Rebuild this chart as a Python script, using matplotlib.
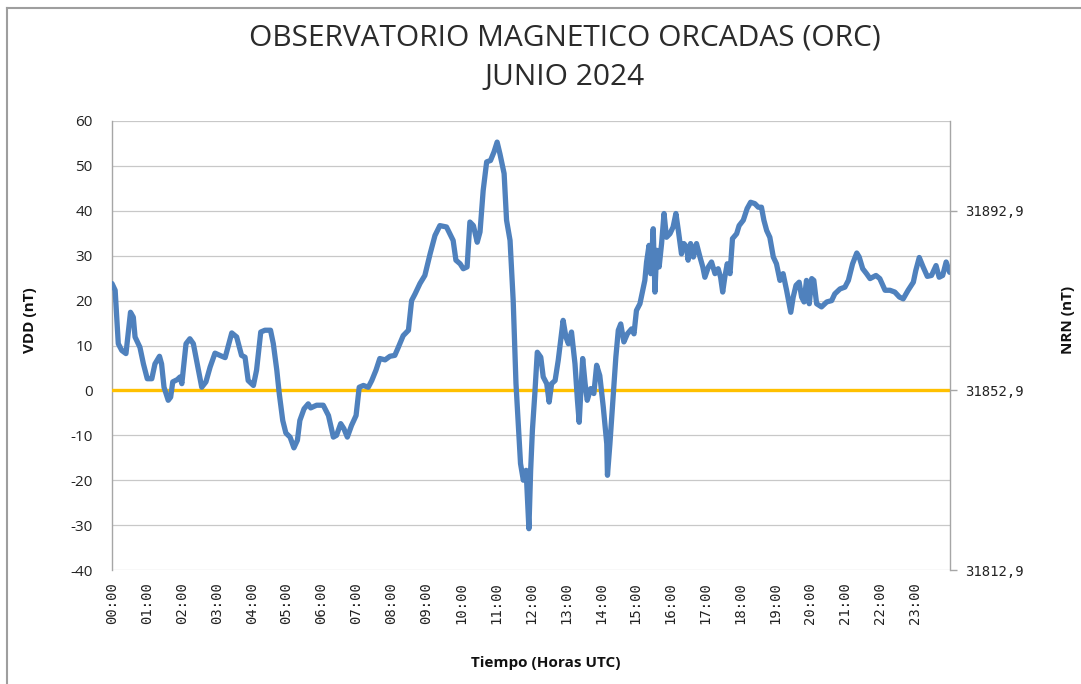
import matplotlib
matplotlib.use("Agg")
import matplotlib.pyplot as plt
import matplotlib.transforms as mtransforms
from matplotlib.lines import Line2D

plt.rcParams["axes.unicode_minus"] = False

# ---- data ----
hours = [0.00, 0.09, 0.18, 0.28, 0.40, 0.53, 0.61, 0.66, 0.80, 0.90, 1.01, 1.14, 1.23, 1.36, 1.42,
         1.49, 1.61, 1.68, 1.74, 1.87, 1.95, 2.00, 2.12, 2.23, 2.33, 2.44, 2.57, 2.69, 2.81, 2.95,
         3.09, 3.24, 3.43, 3.57, 3.71, 3.81, 3.90, 4.05, 4.14, 4.26, 4.38, 4.54, 4.62, 4.72, 4.79,
         4.89, 4.98, 5.10, 5.21, 5.31, 5.38, 5.50, 5.62, 5.69, 5.86, 6.05, 6.20, 6.34, 6.43, 6.55,
         6.64, 6.74, 6.86, 6.99, 7.08, 7.20, 7.34, 7.44, 7.56, 7.67, 7.82, 7.96, 8.10, 8.20, 8.34,
         8.49, 8.58, 8.68, 8.82, 8.96, 9.11, 9.25, 9.39, 9.58, 9.77, 9.85, 9.97, 10.06, 10.17, 10.25,
         10.35, 10.46, 10.54, 10.63, 10.73, 10.84, 10.94, 11.03, 11.11, 11.23, 11.30, 11.40, 11.49,
         11.57, 11.64, 11.70, 11.78, 11.86, 11.94,
         11.99, 12.04, 12.11, 12.18, 12.28, 12.35, 12.45, 12.52, 12.59, 12.69, 12.78, 12.92, 13.00,
         13.07, 13.16, 13.26, 13.33, 13.38, 13.42, 13.48, 13.55, 13.61, 13.71, 13.80, 13.88, 13.97,
         14.07, 14.17, 14.19, 14.26, 14.36, 14.43, 14.50, 14.57, 14.66, 14.76, 14.88, 14.95, 15.02,
         15.12, 15.20, 15.26, 15.31, 15.38, 15.43, 15.50, 15.55, 15.60, 15.67, 15.74, 15.81, 15.88,
         15.98, 16.07, 16.15, 16.22, 16.31, 16.38, 16.46, 16.50, 16.57, 16.65, 16.74, 16.84, 16.92,
         16.98, 17.08, 17.17, 17.27, 17.36, 17.43, 17.49, 17.55, 17.62, 17.70, 17.77, 17.89, 17.96,
         18.08, 18.19, 18.29, 18.41, 18.51, 18.60, 18.67, 18.75, 18.84, 18.94, 19.03, 19.13, 19.22,
         19.32, 19.44, 19.51, 19.59, 19.68, 19.75, 19.82, 19.89, 19.97, 20.04, 20.10, 20.18, 20.32,
         20.47, 20.61, 20.70, 20.85, 20.99, 21.09, 21.21, 21.33, 21.40, 21.50, 21.61, 21.71, 21.88,
         21.99, 22.14, 22.28, 22.42, 22.55, 22.66, 22.80, 22.95, 23.02, 23.12, 23.23, 23.35, 23.47,
         23.60, 23.69, 23.79, 23.89, 23.99]

vdd = [23.8, 22.3, 10.4, 8.9, 8.2, 17.4, 16.3, 11.9, 9.6, 5.9, 2.6, 2.6, 5.9, 7.6, 5.9,
       0.7, -2.2, -1.5, 1.9, 2.4, 3.0, 1.5, 10.4, 11.5, 10.4, 5.9, 0.7, 1.9, 5.2, 8.3,
       7.8, 7.3, 12.8, 11.9, 7.8, 7.4, 2.2, 1.1, 4.5, 13.0, 13.4, 13.4, 10.4, 4.5, -0.7,
       -6.7, -9.5, -10.4, -12.8, -11.1, -6.7, -4.1, -3.0, -3.9, -3.3, -3.3, -5.6, -10.4, -10.0, -7.4,
       -8.5, -10.4, -7.8, -5.6, 0.7, 1.1, 0.7, 2.2, 4.5, 7.1, 6.8, 7.6, 7.8, 9.6, 12.2,
       13.4, 20.0, 21.5, 23.8, 25.6, 30.4, 34.5, 36.7, 36.4, 33.4, 29.0, 28.2, 27.1, 27.5, 37.5,
       36.7, 33.0, 35.3, 44.5, 50.9, 51.2, 53.1, 55.3, 52.7, 48.3, 37.9, 33.4, 20.0,
       1.5, -8.2, -16.3, -20.0, -17.8, -30.8,
       -17.8, -8.9, -0.7, 8.5, 7.4, 3.0, 1.5, -2.6, 1.5, 2.2, 6.7, 15.6, 11.9,
       10.4, 13.0, 5.9, -2.2, -7.1, -1.5, 7.1, 1.5, -2.2, 0.4, -0.7, 5.6, 3.3,
       -3.7, -11.9, -18.9, -11.9, -0.7, 7.4, 13.4, 14.8, 10.8, 12.6, 13.7, 12.6, 17.8,
       19.3, 22.3, 24.5, 28.6, 32.3, 26.0, 36.0, 21.9, 31.2, 27.5, 32.7, 39.4, 34.1,
       34.9, 36.4, 39.4, 35.6, 30.4, 32.7, 31.9, 29.0, 32.7, 29.7, 32.7, 29.7, 27.5,
       25.2, 27.5, 28.6, 26.0, 27.1, 25.2, 21.9, 25.2, 28.2, 26.0, 33.8, 34.9, 36.7,
       37.9, 40.5, 41.9, 41.6, 40.8, 40.8, 37.9, 35.6, 34.1, 29.7, 28.2, 24.5, 26.0,
       22.3, 17.4, 20.8, 23.4, 24.1, 20.8, 19.7, 24.5, 19.3, 24.9, 24.5, 19.3, 18.6,
       19.7, 20.0, 21.5, 22.6, 23.0, 24.5, 28.2, 30.6, 29.7, 27.1, 26.0, 24.9, 25.6,
       24.9, 22.3, 22.3, 21.9, 20.8, 20.4, 22.3, 24.1, 26.7, 29.6, 27.5, 25.4, 25.6,
       27.8, 25.2, 25.6, 28.6, 26.3]

hour_ticks = list(range(24))
hour_labels = ["%02d:00" % h for h in hour_ticks]
vdd_ticks = [-40, -30, -20, -10, 0, 10, 20, 30, 40, 50, 60]
nrn_ticks = [-40, 0, 40]
nrn_labels = ["31812,9", "31852,9", "31892,9"]
baseline = 0

W, H = 1081, 684
fig = plt.figure(figsize=(W / 100, H / 100), dpi=100)
fig.patch.set_facecolor("white")

# outer chart frame (top and left edges visible)
fx, fy = 7.5 / W, 1 - 7.5 / H
fig.add_artist(Line2D([fx, 1.0], [fy, fy], transform=fig.transFigure,
                      color="#9E9E9E", linewidth=1.5))
fig.add_artist(Line2D([fx, fx], [0.0, fy], transform=fig.transFigure,
                      color="#9E9E9E", linewidth=1.5))

L, R, T, B = 112, 950, 121, 570
ax = fig.add_axes([L / W, 1 - B / H, (R - L) / W, (B - T) / H])

ax.set_xlim(0, 24)
ax.set_ylim(-40, 60)
ax.set_yticks(vdd_ticks)
ax.yaxis.grid(True, color="#C8C8C8", linewidth=0.9)
ax.set_axisbelow(True)
ax.set_xticks(hour_ticks)
ax.set_xticklabels(hour_labels, rotation=90, family="DejaVu Sans Mono", fontsize=10, color="#222222")
offset = mtransforms.ScaledTranslation(5 / 100, 0, fig.dpi_scale_trans)
for lab in ax.get_xticklabels():
    lab.set_transform(lab.get_transform() + offset)
ax.tick_params(axis="x", length=0, pad=9)
ax.tick_params(axis="y", length=0, pad=14, labelsize=11, labelcolor="#222222")
for lab in ax.get_yticklabels():
    lab.set_family("Open Sans")

for s in ["top", "right", "bottom"]:
    ax.spines[s].set_visible(False)
ax.spines["left"].set_color("#A6A6A6")
ax.spines["left"].set_linewidth(1.0)

ax.axhline(baseline, color="#FFC000", linewidth=2.4, zorder=3)
ax.plot(hours, vdd, color="#4F81BD", linewidth=3.8, solid_joinstyle="round",
        solid_capstyle="round", zorder=4)

ax2 = ax.twinx()
ax2.set_ylim(-40, 60)
ax2.set_yticks(nrn_ticks)
ax2.set_yticklabels(nrn_labels, family="DejaVu Sans Mono", fontsize=10, color="#222222")
ax2.tick_params(axis="y", length=5, width=1.0, color="#A6A6A6", pad=6)
for s in ["top", "left", "bottom"]:
    ax2.spines[s].set_visible(False)
ax2.spines["right"].set_color("#A6A6A6")
ax2.spines["right"].set_linewidth(1.0)

fig.text(565 / W, 1 - 38 / H, "OBSERVATORIO MAGNETICO ORCADAS (ORC)", ha="center", va="center",
         family="Open Sans", fontsize=21.5, color="#2b2b2b")
fig.text(565 / W, 1 - 78 / H, "JUNIO 2024", ha="center", va="center",
         family="Open Sans", fontsize=21.5, color="#2b2b2b")

fig.text(30 / W, 1 - 320 / H, "VDD (nT)", rotation=90, ha="center", va="center",
         family="Open Sans", fontweight="bold", fontsize=11, color="#111111")
fig.text(1068 / W, 1 - 320 / H, "NRN (nT)", rotation=90, ha="center", va="center",
         family="Open Sans", fontweight="bold", fontsize=11, color="#111111")
fig.text(546 / W, 1 - 663 / H, "Tiempo (Horas UTC)", ha="center", va="center",
         family="Open Sans", fontweight="bold", fontsize=11, color="#111111")

fig.savefig("out.png", dpi=100)
